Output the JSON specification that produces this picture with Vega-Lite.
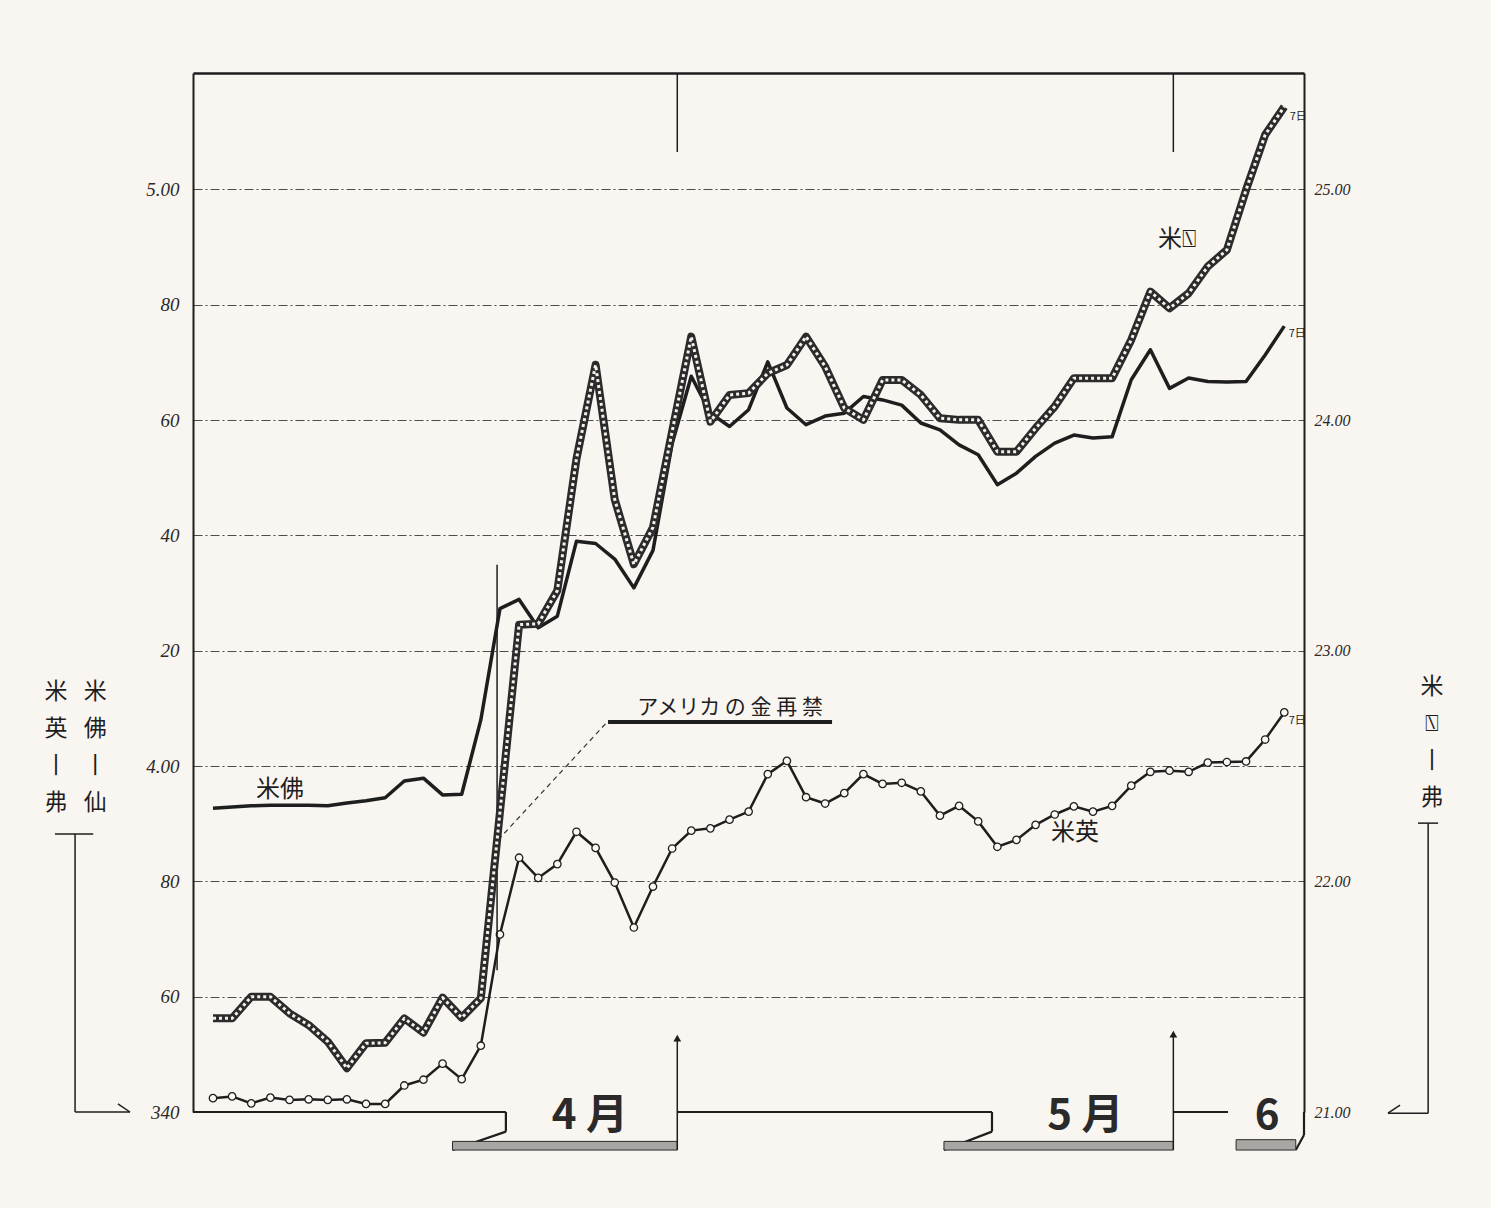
{
  "$schema": "https://vega.github.io/schema/vega-lite/v6.json",
  "width": 1111,
  "height": 1039,
  "autosize": {"type": "none"},
  "padding": {"left": 193, "top": 73, "right": 187, "bottom": 96},
  "background": "#f9f5f0",
  "config": {"view": {"stroke": null}, "font": "Noto Sans CJK JP"},
  "datasets": {
    "fx": [
      {"i": 0, "pound": 3.424, "franc": 3.927, "third": 21.406},
      {"i": 1, "pound": 3.427, "franc": 3.929, "third": 21.406},
      {"i": 2, "pound": 3.415, "franc": 3.931, "third": 21.5},
      {"i": 3, "pound": 3.425, "franc": 3.932, "third": 21.5},
      {"i": 4, "pound": 3.421, "franc": 3.932, "third": 21.428},
      {"i": 5, "pound": 3.422, "franc": 3.932, "third": 21.377},
      {"i": 6, "pound": 3.421, "franc": 3.931, "third": 21.305},
      {"i": 7, "pound": 3.422, "franc": 3.936, "third": 21.19},
      {"i": 8, "pound": 3.414, "franc": 3.94, "third": 21.298},
      {"i": 9, "pound": 3.414, "franc": 3.945, "third": 21.3},
      {"i": 10, "pound": 3.446, "franc": 3.974, "third": 21.406},
      {"i": 11, "pound": 3.456, "franc": 3.979, "third": 21.344},
      {"i": 12, "pound": 3.484, "franc": 3.95, "third": 21.496},
      {"i": 13, "pound": 3.457, "franc": 3.951, "third": 21.409},
      {"i": 14, "pound": 3.515, "franc": 4.08, "third": 21.493},
      {"i": 15, "pound": 3.708, "franc": 4.273, "third": 22.3},
      {"i": 16, "pound": 3.841, "franc": 4.289, "third": 23.113},
      {"i": 17, "pound": 3.806, "franc": 4.24, "third": 23.117},
      {"i": 18, "pound": 3.83, "franc": 4.26, "third": 23.261},
      {"i": 19, "pound": 3.886, "franc": 4.39, "third": 23.832},
      {"i": 20, "pound": 3.858, "franc": 4.386, "third": 24.24},
      {"i": 21, "pound": 3.798, "franc": 4.359, "third": 23.656},
      {"i": 22, "pound": 3.72, "franc": 4.309, "third": 23.375},
      {"i": 23, "pound": 3.791, "franc": 4.374, "third": 23.535},
      {"i": 24, "pound": 3.857, "franc": 4.559, "third": 23.95},
      {"i": 25, "pound": 3.888, "franc": 4.676, "third": 24.362},
      {"i": 26, "pound": 3.892, "franc": 4.612, "third": 23.993},
      {"i": 27, "pound": 3.907, "franc": 4.589, "third": 24.109},
      {"i": 28, "pound": 3.921, "franc": 4.618, "third": 24.117},
      {"i": 29, "pound": 3.986, "franc": 4.701, "third": 24.203},
      {"i": 30, "pound": 4.009, "franc": 4.621, "third": 24.239},
      {"i": 31, "pound": 3.946, "franc": 4.592, "third": 24.362},
      {"i": 32, "pound": 3.935, "franc": 4.607, "third": 24.232},
      {"i": 33, "pound": 3.953, "franc": 4.612, "third": 24.052},
      {"i": 34, "pound": 3.986, "franc": 4.641, "third": 24.001},
      {"i": 35, "pound": 3.969, "franc": 4.635, "third": 24.174},
      {"i": 36, "pound": 3.971, "franc": 4.626, "third": 24.174},
      {"i": 37, "pound": 3.956, "franc": 4.595, "third": 24.109},
      {"i": 38, "pound": 3.914, "franc": 4.583, "third": 24.008},
      {"i": 39, "pound": 3.931, "franc": 4.557, "third": 24.001},
      {"i": 40, "pound": 3.904, "franc": 4.54, "third": 24.001},
      {"i": 41, "pound": 3.86, "franc": 4.488, "third": 23.863},
      {"i": 42, "pound": 3.872, "franc": 4.508, "third": 23.863},
      {"i": 43, "pound": 3.898, "franc": 4.537, "third": 23.965},
      {"i": 44, "pound": 3.916, "franc": 4.56, "third": 24.059},
      {"i": 45, "pound": 3.93, "franc": 4.574, "third": 24.182},
      {"i": 46, "pound": 3.921, "franc": 4.569, "third": 24.182},
      {"i": 47, "pound": 3.931, "franc": 4.571, "third": 24.182},
      {"i": 48, "pound": 3.966, "franc": 4.67, "third": 24.348},
      {"i": 49, "pound": 3.99, "franc": 4.722, "third": 24.557},
      {"i": 50, "pound": 3.992, "franc": 4.655, "third": 24.485},
      {"i": 51, "pound": 3.99, "franc": 4.673, "third": 24.55},
      {"i": 52, "pound": 4.006, "franc": 4.667, "third": 24.666},
      {"i": 53, "pound": 4.007, "franc": 4.666, "third": 24.738},
      {"i": 54, "pound": 4.008, "franc": 4.667, "third": 24.998},
      {"i": 55, "pound": 4.046, "franc": 4.713, "third": 25.237},
      {"i": 56, "pound": 4.093, "franc": 4.763, "third": 25.359}
    ]
  },
  "resolve": {"scale": {"y": "independent"}},
  "layer": [
    {
      "layer": [
        {
          "data": {"name": "fx"},
          "mark": {"type": "line", "color": "#1e1e1e", "strokeWidth": 2.5, "clip": false},
          "encoding": {
            "x": {"field": "i", "type": "quantitative", "title": null,
              "scale": {"domain": [-1.045, 57.03], "nice": false, "zero": false},
              "axis": {"orient": "top", "labels": false, "ticks": false, "grid": false, "domain": true, "domainColor": "#1e1e1e", "domainWidth": 2.5}},
            "y": {"field": "pound", "type": "quantitative", "title": null,
              "scale": {"domain": [3.4, 5.202], "nice": false, "zero": false},
              "axis": {"orient": "left", "values": [3.4, 3.6, 3.8, 4.0, 4.2, 4.4, 4.6, 4.8, 5.0],
                "labelExpr": "datum.value < 3.5 ? '340' : abs(datum.value - 4) < 0.01 ? '4.00' : abs(datum.value - 5) < 0.01 ? '5.00' : substring(format(datum.value, '.2f'), 2, 4)",
                "ticks": false, "domain": true, "domainColor": "#1e1e1e", "domainWidth": 2,
                "grid": true, "gridDash": [9, 3, 2, 3], "gridColor": "#3a3a3a", "gridWidth": 1.2,
                "gridOpacity": {"condition": {"test": "datum.value < 3.5", "value": 0}, "value": 0.9},
                "labelFont": "Liberation Serif", "labelFontStyle": "italic", "labelFontSize": 19,
                "labelColor": "#2a2a2a", "labelPadding": 14, "labelFlush": false, "labelOverlap": false}}
          }
        },
        {
          "data": {"name": "fx"},
          "mark": {"type": "point", "shape": "circle", "filled": true, "fill": "#fbf8f3", "stroke": "#1e1e1e", "strokeWidth": 1.3, "size": 55, "opacity": 1, "clip": false},
          "encoding": {
            "x": {"field": "i", "type": "quantitative", "title": null},
            "y": {"field": "pound", "type": "quantitative", "title": null}
          }
        },
        {
          "data": {"name": "fx"},
          "mark": {"type": "line", "color": "#1e1e1e", "strokeWidth": 3.5, "strokeJoin": "round", "clip": false},
          "encoding": {
            "x": {"field": "i", "type": "quantitative", "title": null},
            "y": {"field": "franc", "type": "quantitative", "title": null}
          }
        },
        {
          "data": {"name": "fx"},
          "transform": [{"filter": "datum.i == 56"}],
          "mark": {"type": "text", "fontSize": 11, "dx": 13, "dy": 8, "color": "#1e1e1e", "clip": false},
          "encoding": {
            "x": {"field": "i", "type": "quantitative", "title": null},
            "y": {"field": "franc", "type": "quantitative", "title": null},
            "text": {"value": "7日"}
          }
        },
        {
          "data": {"name": "fx"},
          "transform": [{"filter": "datum.i == 56"}],
          "mark": {"type": "text", "fontSize": 11, "dx": 13, "dy": 9, "color": "#1e1e1e", "clip": false},
          "encoding": {
            "x": {"field": "i", "type": "quantitative", "title": null},
            "y": {"field": "pound", "type": "quantitative", "title": null},
            "text": {"value": "7日"}
          }
        },
        {
          "data": {"values": [
            {"a": -1.045, "a2": 15.31, "b": 3.4, "b2": 3.4},
            {"a": 15.31, "a2": 15.31, "b": 3.4, "b2": 3.366},
            {"a": 15.31, "a2": 12.52, "b": 3.366, "b2": 3.334},
            {"a": 24.27, "a2": 40.72, "b": 3.4, "b2": 3.4},
            {"a": 40.72, "a2": 40.72, "b": 3.4, "b2": 3.366},
            {"a": 40.72, "a2": 38.21, "b": 3.366, "b2": 3.334},
            {"a": 50.2, "a2": 53.06, "b": 3.4, "b2": 3.4},
            {"a": 56.6, "a2": 57.03, "b": 3.334, "b2": 3.36},
            {"a": 57.03, "a2": 57.03, "b": 3.36, "b2": 3.4}
          ]},
          "mark": {"type": "rule", "color": "#1e1e1e", "strokeWidth": 2.2, "clip": false},
          "encoding": {
            "x": {"field": "a", "type": "quantitative", "title": null},
            "x2": {"field": "a2"},
            "y": {"field": "b", "type": "quantitative", "title": null},
            "y2": {"field": "b2"}
          }
        },
        {
          "data": {"values": [
            {"a": 12.52, "a2": 24.27, "b": 3.334, "b2": 3.349},
            {"a": 38.21, "a2": 50.2, "b": 3.334, "b2": 3.349},
            {"a": 53.48, "a2": 56.6, "b": 3.334, "b2": 3.352}
          ]},
          "mark": {"type": "rect", "fill": "#a8a6a2", "stroke": "#2a2a2a", "strokeWidth": 1, "clip": false},
          "encoding": {
            "x": {"field": "a", "type": "quantitative", "title": null},
            "x2": {"field": "a2"},
            "y": {"field": "b", "type": "quantitative", "title": null},
            "y2": {"field": "b2"}
          }
        },
        {
          "data": {"values": [
            {"a": 24.27, "a2": 24.27, "b": 3.334, "b2": 3.525},
            {"a": 50.2, "a2": 50.2, "b": 3.334, "b2": 3.532},
            {"a": 24.27, "a2": 24.27, "b": 5.202, "b2": 5.065},
            {"a": 50.2, "a2": 50.2, "b": 5.202, "b2": 5.065},
            {"a": -8.26, "a2": -6.26, "b": 3.882, "b2": 3.882},
            {"a": -7.21, "a2": -7.21, "b": 3.882, "b2": 3.4},
            {"a": -7.21, "a2": -4.34, "b": 3.4, "b2": 3.4},
            {"a": -4.34, "a2": -4.97, "b": 3.4, "b2": 3.414},
            {"a": 62.99, "a2": 64.04, "b": 3.901, "b2": 3.901},
            {"a": 63.52, "a2": 63.52, "b": 3.901, "b2": 3.398},
            {"a": 61.42, "a2": 63.52, "b": 3.398, "b2": 3.398},
            {"a": 61.42, "a2": 62.05, "b": 3.398, "b2": 3.412},
            {"a": 14.85, "a2": 14.85, "b": 4.349, "b2": 3.646}
          ]},
          "mark": {"type": "rule", "color": "#1e1e1e", "strokeWidth": 1.5, "clip": false},
          "encoding": {
            "x": {"field": "a", "type": "quantitative", "title": null},
            "x2": {"field": "a2"},
            "y": {"field": "b", "type": "quantitative", "title": null},
            "y2": {"field": "b2"}
          }
        },
        {
          "data": {"values": [{"a": 24.27, "b": 3.528}, {"a": 50.2, "b": 3.535}]},
          "mark": {"type": "point", "shape": "triangle-up", "filled": true, "color": "#1e1e1e", "size": 60, "opacity": 1, "clip": false},
          "encoding": {
            "x": {"field": "a", "type": "quantitative", "title": null},
            "y": {"field": "b", "type": "quantitative", "title": null}
          }
        },
        {
          "data": {"values": [{"a": 14.91, "a2": 20.65, "b": 3.872, "b2": 4.078}]},
          "mark": {"type": "rule", "color": "#333333", "strokeWidth": 1.2, "strokeDash": [5, 4], "clip": false},
          "encoding": {
            "x": {"field": "a", "type": "quantitative", "title": null},
            "x2": {"field": "a2"},
            "y": {"field": "b", "type": "quantitative", "title": null},
            "y2": {"field": "b2"}
          }
        },
        {
          "data": {"values": [{"a": 20.65, "a2": 32.36, "b": 4.0765, "b2": 4.0765}]},
          "mark": {"type": "rule", "color": "#1e1e1e", "strokeWidth": 4, "clip": false},
          "encoding": {
            "x": {"field": "a", "type": "quantitative", "title": null},
            "x2": {"field": "a2"},
            "y": {"field": "b", "type": "quantitative", "title": null},
            "y2": {"field": "b2"}
          }
        },
        {
          "data": {"values": [{"a": 27.03, "b": 4.101, "t": "アメリカ の 金 再 禁"}]},
          "mark": {"type": "text", "fontSize": 21, "color": "#1e1e1e", "baseline": "middle", "align": "center", "clip": false},
          "encoding": {
            "x": {"field": "a", "type": "quantitative", "title": null},
            "y": {"field": "b", "type": "quantitative", "title": null},
            "text": {"field": "t"}
          }
        },
        {
          "data": {"values": [
            {"a": 3.5, "b": 3.9585, "t": "米佛"},
            {"a": 45.06, "b": 3.884, "t": "米英"},
            {"a": 50.39, "b": 4.9126, "t": "米⍂"}
          ]},
          "mark": {"type": "text", "fontSize": 24, "color": "#1e1e1e", "baseline": "middle", "align": "center", "clip": false},
          "encoding": {
            "x": {"field": "a", "type": "quantitative", "title": null},
            "y": {"field": "b", "type": "quantitative", "title": null},
            "text": {"field": "t"}
          }
        },
        {
          "data": {"values": [
            {"a": 19.7, "b": 3.393, "t": "4 月"},
            {"a": 45.6, "b": 3.393, "t": "5 月"},
            {"a": 55.1, "b": 3.393, "t": "6"}
          ]},
          "mark": {"type": "text", "fontSize": 42, "fontWeight": "bold", "color": "#2a2a2a", "baseline": "middle", "align": "center", "clip": false},
          "encoding": {
            "x": {"field": "a", "type": "quantitative", "title": null},
            "y": {"field": "b", "type": "quantitative", "title": null},
            "text": {"field": "t"}
          }
        },
        {
          "data": {"values": [
            {"a": -8.2, "b": 4.148, "t": "米\n英\n丨\n弗"},
            {"a": -6.15, "b": 4.148, "t": "米\n佛\n丨\n仙"},
            {"a": 63.72, "b": 4.156, "t": "米\n⍂\n丨\n弗"}
          ]},
          "mark": {"type": "text", "fontSize": 23, "lineBreak": "\n", "lineHeight": 37, "color": "#1e1e1e", "baseline": "top", "align": "center", "clip": false},
          "encoding": {
            "x": {"field": "a", "type": "quantitative", "title": null},
            "y": {"field": "b", "type": "quantitative", "title": null},
            "text": {"field": "t"}
          }
        }
      ]
    },
    {
      "layer": [
        {
          "data": {"name": "fx"},
          "mark": {"type": "line", "color": "#2b2b2b", "strokeWidth": 8, "strokeJoin": "round", "clip": false},
          "encoding": {
            "x": {"field": "i", "type": "quantitative", "title": null},
            "y": {"field": "third", "type": "quantitative", "title": null,
              "scale": {"domain": [21, 25.505], "nice": false, "zero": false},
              "axis": {"orient": "right", "values": [21, 22, 23, 24, 25], "format": ".2f", "ticks": false,
                "domain": true, "domainColor": "#1e1e1e", "domainWidth": 2, "grid": false,
                "labelFont": "Liberation Serif", "labelFontStyle": "italic", "labelFontSize": 16,
                "labelColor": "#2a2a2a", "labelPadding": 10, "labelFlush": false, "labelOverlap": false}}
          }
        },
        {
          "data": {"name": "fx"},
          "mark": {"type": "line", "color": "#f4f0ea", "strokeWidth": 3, "strokeDash": [3, 3], "strokeJoin": "round", "clip": false},
          "encoding": {
            "x": {"field": "i", "type": "quantitative", "title": null},
            "y": {"field": "third", "type": "quantitative", "title": null}
          }
        },
        {
          "data": {"name": "fx"},
          "transform": [{"filter": "datum.i == 56"}],
          "mark": {"type": "text", "fontSize": 11, "dx": 14, "dy": 10, "color": "#1e1e1e", "clip": false},
          "encoding": {
            "x": {"field": "i", "type": "quantitative", "title": null},
            "y": {"field": "third", "type": "quantitative", "title": null},
            "text": {"value": "7日"}
          }
        }
      ]
    }
  ]
}
